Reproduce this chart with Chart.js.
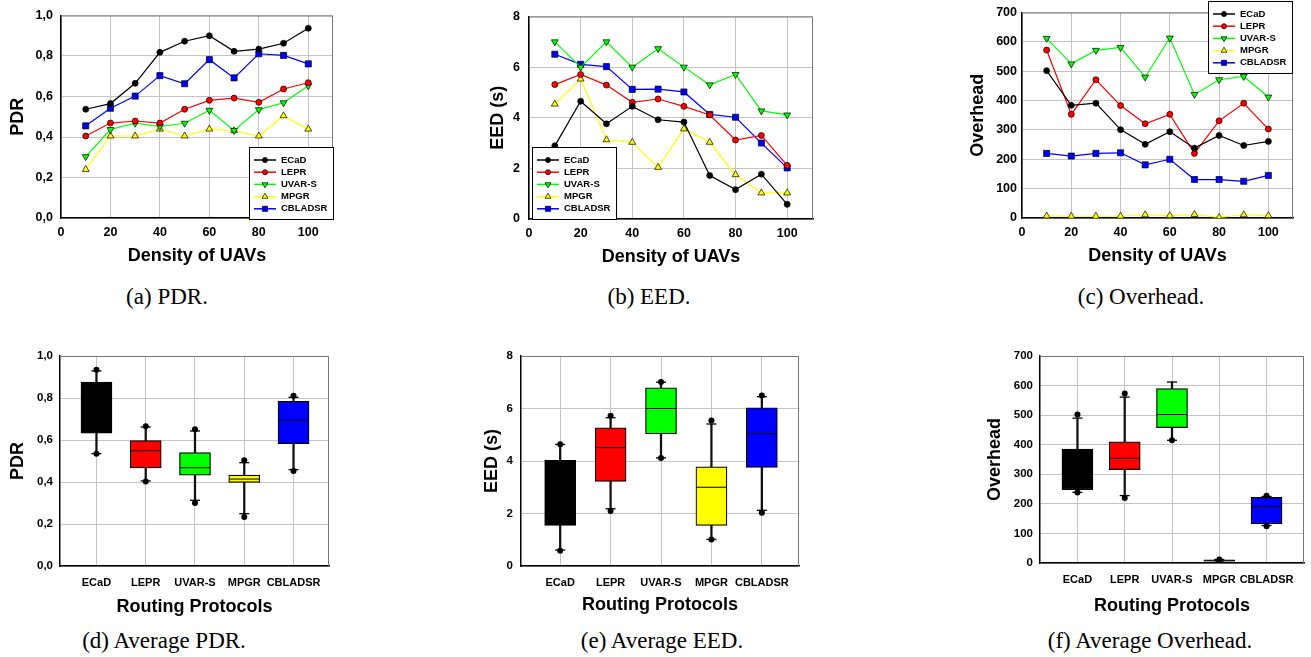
<!DOCTYPE html>
<html><head><meta charset="utf-8">
<script src="https://cdn.jsdelivr.net/npm/chart.js@4.4.1/dist/chart.umd.min.js"></script>
<style>
html,body{margin:0;padding:0;background:#fff;overflow:hidden;width:1311px;height:657px;position:relative;}
.pane{position:absolute;}
.cap{position:absolute;font-family:"Liberation Serif","Times New Roman",serif;font-size:23px;color:#000;white-space:nowrap;transform:translate(-50%,-50%);}
</style></head><body>
<script>
// ---------------- DATA ----------------
const densities = [10,20,30,40,50,60,70,80,90,100];
const protocols = ['ECaD','LEPR','UVAR-S','MPGR','CBLADSR'];

const pdrECaD    = [0.537,0.565,0.665,0.818,0.873,0.900,0.823,0.834,0.863,0.937];
const pdrLEPR    = [0.405,0.469,0.479,0.469,0.537,0.581,0.592,0.571,0.637,0.668];
const pdrUVARS   = [0.303,0.437,0.468,0.452,0.468,0.532,0.432,0.535,0.569,0.653];
const pdrMPGR    = [0.240,0.405,0.405,0.439,0.405,0.439,0.431,0.405,0.505,0.439];
const pdrCBLADSR = [0.455,0.542,0.602,0.703,0.663,0.782,0.692,0.811,0.803,0.761];

const eedECaD    = [2.89,4.65,3.76,4.45,3.92,3.83,1.72,1.16,1.77,0.58];
const eedLEPR    = [5.31,5.71,5.29,4.61,4.74,4.45,4.11,3.12,3.30,2.12];
const eedUVARS   = [7.00,6.00,7.00,6.00,6.73,6.00,5.30,5.71,4.27,4.11];
const eedMPGR    = [4.54,5.53,3.13,3.03,2.04,3.56,3.03,1.75,1.03,1.03];
const eedCBLADSR = [6.51,6.11,6.02,5.12,5.13,5.02,4.13,4.02,3.00,2.02];

const ohECaD    = [502,384,391,301,251,294,238,281,247,261];
const ohLEPR    = [572,353,471,383,321,353,220,331,391,303];
const ohUVARS   = [612,525,571,581,480,613,421,471,482,412];
const ohMPGR    = [7,6,6,6,11,8,12,2,11,8];
const ohCBLADSR = [220,211,220,222,181,200,131,131,125,145];

// box-plot statistics per protocol (ECaD, LEPR, UVAR-S, MPGR, CBLADSR)
const pdrQ1    = [0.633,0.467,0.433,0.398,0.583];
const pdrQ3    = [0.876,0.597,0.540,0.433,0.784];
const pdrMed   = [0.829,0.549,0.468,0.414,0.694];
const pdrCapLo = [0.535,0.405,0.313,0.249,0.459];
const pdrCapHi = [0.929,0.662,0.643,0.492,0.803];
const pdrDotLo = [0.535,0.402,0.300,0.233,0.452];
const pdrDotHi = [0.935,0.665,0.651,0.503,0.811];

const eedQ1    = [1.55,3.22,5.03,1.55,3.76];
const eedQ3    = [4.03,5.26,6.79,3.78,6.03];
const eedMed   = [3.30,4.51,6.00,3.00,5.04];
const eedCapLo = [0.61,2.18,4.12,1.01,2.12];
const eedCapHi = [4.63,5.65,7.00,5.41,6.45];
const eedDotLo = [0.58,2.10,4.11,1.01,2.03];
const eedDotHi = [4.64,5.72,7.01,5.54,6.50];

const ohQ1    = [248,316,458,6,133];
const ohQ3    = [385,410,590,11,222];
const ohMed   = [288,354,502,8,191];
const ohCapLo = [239,228,415,3,127];
const ohCapHi = [490,561,612,12,225];
const ohDotLo = [238,220,415,2,124];
const ohDotHi = [502,573,null,12,227];

const densityTicks  = [0,20,40,60,80,100];
const pdrTickLabels = ['0,0','0,2','0,4','0,6','0,8','1,0'];
const eedTickLabels = ['0','2','4','6','8'];
const ohTickLabels  = ['0','100','200','300','400','500','600','700'];

// ---------------- STYLE ----------------
Chart.defaults.font.family = "'Liberation Sans', Arial, sans-serif";
Chart.defaults.color = '#000';
const FONT = "'Liberation Sans', Arial, sans-serif";
const seriesStyle = [
  {color:'#000000', fill:'#000000', shape:'circle',   rot:0,   r:3},
  {color:'#ff0000', fill:'#ff0000', shape:'circle',   rot:0,   r:3},
  {color:'#00ff00', fill:'#00ff00', shape:'triangle', rot:180, r:4},
  {color:'#ffff00', fill:'#ffff00', shape:'triangle', rot:0,   r:4},
  {color:'#0000ff', fill:'#0000ff', shape:'rect',     rot:0,   r:4.3}
];
const boxColors = ['#000000','#ff0000','#00ff00','#ffff00','#0000ff'];
const GRID = '#c4c4c4';

const G = {
  a:{cx:0,   cy:0,   cw:345, ch:275, l:61,   t:12,  r:333,  b:218, ytx:18,  xty:256, tp:8, xp:7.5},
  b:{cx:440, cy:0,   cw:380, ch:275, l:529,  t:12,  r:813,  b:219, ytx:498, xty:257, tp:9, xp:7.5},
  c:{cx:940, cy:0,   cw:371, ch:275, l:1022, t:12,  r:1293, b:218, ytx:978, xty:256, tp:5, xp:7.5},
  d:{cx:0,   cy:330, cw:345, ch:290, l:60,   t:356, r:333,  b:566, ytx:18,  xty:607, tp:7, xp:10},
  e:{cx:470, cy:330, cw:345, ch:290, l:521,  t:356, r:805,  b:566, ytx:492, xty:605, tp:8, xp:10},
  f:{cx:960, cy:330, cw:360, ch:290, l:1040, t:356, r:1315, b:563, ytx:995, xty:606, tp:7, xp:10}
};

function drawMarker(ctx, shape, x, y, r, rot, fill) {
  ctx.save(); ctx.translate(x, y); ctx.rotate(rot * Math.PI / 180); ctx.beginPath();
  if (shape === 'circle') ctx.arc(0, 0, r, 0, 2 * Math.PI);
  else if (shape === 'rect') { const s = r * Math.SQRT1_2; ctx.rect(-s, -s, 2 * s, 2 * s); }
  else { ctx.moveTo(0, -r); ctx.lineTo(r * 0.866, r * 0.5); ctx.lineTo(-r * 0.866, r * 0.5); ctx.closePath(); }
  ctx.fillStyle = fill; ctx.fill(); ctx.strokeStyle = '#000'; ctx.lineWidth = 0.7; ctx.stroke(); ctx.restore();
}

const framePlugin = {
  id: 'frame',
  beforeDatasetsDraw(chart) {
    const {ctx, chartArea: a} = chart;
    ctx.save(); ctx.strokeStyle = '#777'; ctx.lineWidth = 1;
    ctx.beginPath(); ctx.moveTo(a.left, a.top + 0.5); ctx.lineTo(a.right - 0.5, a.top + 0.5); ctx.lineTo(a.right - 0.5, a.bottom); ctx.stroke();
    ctx.restore();
  }
};

function legendPlugin(g, px, py) {
  return {
    id: 'boxLegend',
    afterDraw(chart) {
      const ctx = chart.ctx; const x = px - g.cx, y = py - g.cy;
      ctx.save();
      ctx.fillStyle = '#fff'; ctx.fillRect(x, y, 84, 72);
      ctx.strokeStyle = '#000'; ctx.lineWidth = 1; ctx.strokeRect(x + 0.5, y + 0.5, 84, 72);
      ctx.font = "bold 9.5px " + FONT; ctx.textBaseline = 'middle'; ctx.textAlign = 'left';
      chart.data.datasets.forEach((ds, i) => {
        const st = seriesStyle[i]; const yy = y + 13 + i * 12.2;
        ctx.strokeStyle = st.color; ctx.lineWidth = 1.5;
        ctx.beginPath(); ctx.moveTo(x + 5, yy); ctx.lineTo(x + 27, yy); ctx.stroke();
        drawMarker(ctx, st.shape, x + 16, yy, st.r * 0.85, st.rot, st.fill);
        ctx.fillStyle = '#000'; ctx.fillText(ds.label, x + 32, yy);
      });
      ctx.restore();
    }
  };
}

function makeCanvas(g) {
  const div = document.createElement('div'); div.className = 'pane';
  div.style.left = g.cx + 'px'; div.style.top = g.cy + 'px';
  div.style.width = g.cw + 'px'; div.style.height = g.ch + 'px';
  const cv = document.createElement('canvas'); cv.width = g.cw; cv.height = g.ch;
  cv.style.width = g.cw + 'px'; cv.style.height = g.ch + 'px';
  div.appendChild(cv); document.body.appendChild(div);
  return cv;
}

function axisTitle(text, pad) {
  return {display: true, text, font: {size: 18, weight: 'bold', lineHeight: 1}, color: '#000', padding: pad};
}

function baseOptions(g, xScale, yScale, xTitle, yTitle, tickSize) {
  return {
    responsive: false, animation: false, devicePixelRatio: 1, events: [],
    layout: {padding: {left: 0, top: g.t - g.cy, right: g.cx + g.cw - g.r, bottom: 0}},
    plugins: {legend: {display: false}, tooltip: {enabled: false}},
    scales: {
      x: Object.assign({
        type: 'linear', offset: false,
        grid: {color: GRID, lineWidth: 1, drawTicks: false, offset: false},
        border: {color: '#000', width: 1.5},
        title: axisTitle(xTitle, {top: 0, bottom: g.cy + g.ch - g.xty - 9}),
        afterFit: s => { s.height = g.cy + g.ch - g.b; }
      }, xScale),
      y: Object.assign({
        type: 'linear',
        grid: {color: GRID, lineWidth: 1, drawTicks: false},
        border: {color: '#000', width: 1.5},
        title: axisTitle(yTitle, {top: g.ytx - g.cx - 9, bottom: 0}),
        afterFit: s => { s.width = g.l - g.cx; }
      }, yScale)
    }
  };
}

function lineChart(g, series, yMin, yMax, yStep, yLabels, yTitle, legendPos) {
  const datasets = series.map((vals, i) => {
    const st = seriesStyle[i];
    return {
      type: 'line', label: protocols[i],
      data: densities.map((d, j) => ({x: d, y: vals[j]})),
      borderColor: st.color, borderWidth: 1.2, backgroundColor: st.fill,
      pointBackgroundColor: st.fill, pointBorderColor: '#000', pointBorderWidth: 0.7,
      pointStyle: st.shape, pointRotation: st.rot, pointRadius: st.r, tension: 0, fill: false,
      order: i
    };
  });
  const tickFont = {size: 12.5, weight: 'bold'};
  const opts = baseOptions(g,
    {min: 0, max: 110, ticks: {stepSize: 20, includeBounds: false, font: tickFont, color: '#000', padding: g.xp,
      callback: v => densityTicks.includes(v) ? String(v) : ''}},
    {min: yMin, max: yMax, ticks: {stepSize: yStep, font: tickFont, color: '#000', padding: g.tp,
      callback: (v, i) => yLabels[i]}},
    'Density of UAVs', yTitle);
  new Chart(makeCanvas(g), {type: 'line', data: {datasets}, options: opts,
    plugins: [framePlugin, legendPlugin(g, legendPos[0], legendPos[1])]});
}

function boxChart(g, xMin, xMax, stats, yMin, yMax, yStep, yLabels, yTitle) {
  const idx = protocols.map((p, i) => i + 1);
  const caps = [], dots = [];
  idx.forEach((x, i) => {
    caps.push({x, y: stats.capLo[i]}); caps.push({x, y: stats.capHi[i]});
    if (stats.dotLo[i] !== null) dots.push({x, y: stats.dotLo[i]});
    if (stats.dotHi[i] !== null) dots.push({x, y: stats.dotHi[i]});
  });
  const datasets = [
    {type: 'bar', data: idx.map((x, i) => ({x, y: [stats.capLo[i], stats.capHi[i]]})),
      backgroundColor: '#111', barThickness: 1.6, grouped: false, order: 4},
    {type: 'bar', data: idx.map((x, i) => ({x, y: [stats.q1[i], stats.q3[i]]})),
      backgroundColor: boxColors, borderColor: '#000', borderWidth: 1.2, borderSkipped: false,
      barThickness: 31, grouped: false, order: 3},
    {type: 'scatter', data: idx.map((x, i) => ({x, y: stats.med[i]})),
      pointStyle: 'line', pointRadius: 15, pointBorderColor: '#000', pointBorderWidth: 1, order: 2},
    {type: 'scatter', data: caps,
      pointStyle: 'line', pointRadius: 5, pointBorderColor: '#000', pointBorderWidth: 1.3, order: 1},
    {type: 'scatter', data: dots,
      pointStyle: 'circle', pointRadius: 3, pointBackgroundColor: '#000', pointBorderColor: '#000', pointBorderWidth: 0, order: 0}
  ];
  const opts = baseOptions(g,
    {min: xMin, max: xMax, ticks: {stepSize: 1, includeBounds: false, font: {size: 11, weight: 'bold'}, color: '#000', padding: g.xp,
      callback: v => protocols[Math.round(v) - 1] || ''}},
    {min: yMin, max: yMax, beginAtZero: true, ticks: {stepSize: yStep, font: {size: 11.5, weight: 'bold'}, color: '#000', padding: g.tp,
      callback: (v, i) => yLabels[i]}},
    'Routing Protocols', yTitle);
  new Chart(makeCanvas(g), {type: 'bar', data: {datasets}, options: opts, plugins: [framePlugin]});
}

lineChart(G.a, [pdrECaD, pdrLEPR, pdrUVARS, pdrMPGR, pdrCBLADSR], 0, 1, 0.2, pdrTickLabels, 'PDR', [249, 147]);
lineChart(G.b, [eedECaD, eedLEPR, eedUVARS, eedMPGR, eedCBLADSR], 0, 8, 2, eedTickLabels, 'EED (s)', [532, 147]);
lineChart(G.c, [ohECaD, ohLEPR, ohUVARS, ohMPGR, ohCBLADSR], 0, 700, 100, ohTickLabels, 'Overhead', [1208, 1]);

boxChart(G.d, 0.26, 5.72, {q1: pdrQ1, q3: pdrQ3, med: pdrMed, capLo: pdrCapLo, capHi: pdrCapHi, dotLo: pdrDotLo, dotHi: pdrDotHi}, 0, 1, 0.2, pdrTickLabels, 'PDR');
boxChart(G.e, 0.223, 5.737, {q1: eedQ1, q3: eedQ3, med: eedMed, capLo: eedCapLo, capHi: eedCapHi, dotLo: eedDotLo, dotHi: eedDotHi}, 0, 8, 2, eedTickLabels, 'EED (s)');
boxChart(G.f, 0.208, 5.792, {q1: ohQ1, q3: ohQ3, med: ohMed, capLo: ohCapLo, capHi: ohCapHi, dotLo: ohDotLo, dotHi: ohDotHi}, 0, 700, 100, ohTickLabels, 'Overhead');

const captions = [
  ['(a) PDR.', 167, 297], ['(b) EED.', 649, 297], ['(c) Overhead.', 1141, 297],
  ['(d) Average PDR.', 164, 641], ['(e) Average EED.', 662, 641], ['(f) Average Overhead.', 1150, 641]
];
captions.forEach(([t, x, y]) => {
  const d = document.createElement('div'); d.className = 'cap'; d.textContent = t;
  d.style.left = x + 'px'; d.style.top = y + 'px'; document.body.appendChild(d);
});
</script>
</body></html>
